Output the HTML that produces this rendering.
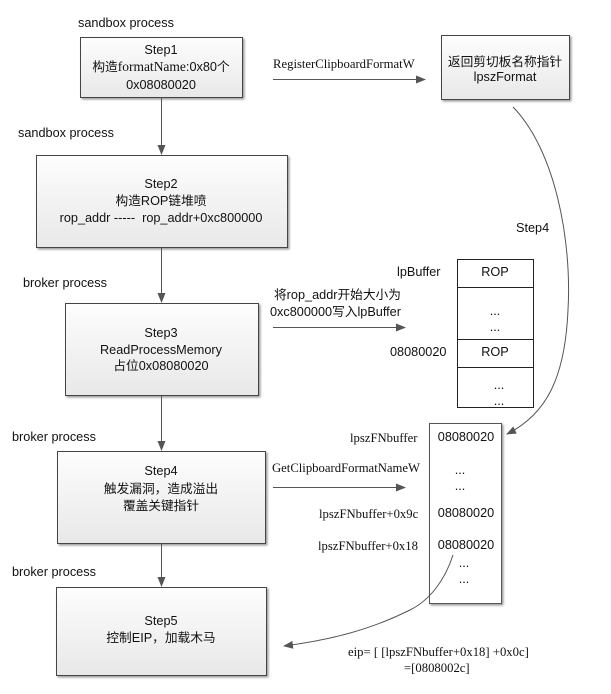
<!DOCTYPE html>
<html><head><meta charset="utf-8"><style>
body{margin:0;background:#fff;width:611px;height:689px;overflow:hidden}
svg text{font-family:"Liberation Sans","Noto Sans CJK SC",sans-serif;font-size:12.7px;fill:#111;white-space:pre}
.s{font-family:"Liberation Serif","Noto Serif CJK SC",serif}
</style></head><body>
<svg width="611" height="689" xmlns="http://www.w3.org/2000/svg">
<defs>
<linearGradient id="g" x1="0" y1="0" x2="0" y2="1"><stop offset="0" stop-color="#fdfdfd"/><stop offset="1" stop-color="#e8e8e8"/></linearGradient>
<marker id="a" markerWidth="10" markerHeight="8" refX="9" refY="4" orient="auto" markerUnits="userSpaceOnUse"><path d="M0,0 L10,4 L0,8z" fill="#555"/></marker>
<filter id="sh"><feDropShadow dx="1.5" dy="1.5" stdDeviation="1" flood-color="#999"/></filter>
</defs>
<g fill="url(#g)" stroke="#444" stroke-width="1" filter="url(#sh)">
<rect x="80.5" y="37.5" width="162" height="60"/>
<rect x="36.5" y="155.5" width="251" height="92"/>
<rect x="65.5" y="303.5" width="193" height="92"/>
<rect x="57.5" y="451.5" width="208" height="92"/>
<rect x="56.5" y="587.5" width="210" height="88"/>
<rect x="441.5" y="35.5" width="128" height="64"/>
</g>
<g fill="#fff" stroke="#222">
<rect x="457.5" y="259.5" width="76" height="148"/>
<line x1="457" y1="287.5" x2="533" y2="287.5"/>
<line x1="457" y1="339.5" x2="533" y2="339.5"/>
<line x1="457" y1="367.5" x2="533" y2="367.5"/>
</g>
<rect x="429.5" y="423.5" width="72" height="180" fill="#fff" stroke="#555" filter="url(#sh)"/>
<g stroke="#555" stroke-width="1" fill="none" marker-end="url(#a)">
<line x1="161.5" y1="97" x2="161.5" y2="154"/>
<line x1="161.5" y1="248" x2="161.5" y2="302"/>
<line x1="161.5" y1="396" x2="161.5" y2="450"/>
<line x1="161.5" y1="544" x2="161.5" y2="586"/>
<line x1="273" y1="79.5" x2="425" y2="79.5"/>
<line x1="273" y1="327.5" x2="405" y2="327.5"/>
<line x1="273" y1="487.5" x2="405" y2="487.5"/>
<path d="M513,107 C555,150 572,240 568,310 C565,380 545,415 507,434"/>
<path d="M453,555 C445,580 430,600 410,610 C370,630 330,640 284,646"/>
</g>
<text x="78" y="27">sandbox process</text>
<text x="18" y="137">sandbox process</text>
<text x="23" y="287">broker process</text>
<text x="12" y="441">broker process</text>
<text x="12" y="576">broker process</text>
<g text-anchor="middle">
<text x="161" y="54">Step1</text>
<text x="161" y="71">构造<tspan class="s" font-size="13.5">formatName</tspan>:0x80个</text>
<text x="161" y="89">0x08080020</text>
<text x="161" y="188">Step2</text>
<text x="161" y="205">构造ROP链堆喷</text>
<text x="161" y="222">rop_addr -----  rop_addr+0xc800000</text>
<text x="161" y="337">Step3</text>
<text x="161" y="354">ReadProcessMemory</text>
<text x="161" y="370">占位0x08080020</text>
<text x="161" y="475">Step4</text>
<text x="161" y="493">触发漏洞，造成溢出</text>
<text x="161" y="510">覆盖关键指针</text>
<text x="161" y="625">Step5</text>
<text x="161" y="642">控制EIP，加载木马</text>
<text x="505" y="66">返回剪切板名称指针</text>
<text x="505" y="81">lpszFormat</text>
<text x="495" y="276">ROP</text>
<text x="495" y="315">...</text>
<text x="495" y="331">...</text>
<text x="495" y="356">ROP</text>
<text x="499" y="389">...</text>
<text x="499" y="405">...</text>
<text x="466" y="441">08080020</text>
<text x="460" y="474">...</text>
<text x="460" y="490">...</text>
<text x="466" y="517">08080020</text>
<text x="466" y="549">08080020</text>
<text x="464" y="567">...</text>
<text x="464" y="583">...</text>
</g>
<text x="274" y="299">将rop_addr开始大小为</text>
<text x="270" y="316">0xc800000写入lpBuffer</text>
<text class="s" x="273" y="68">RegisterClipboardFormatW</text>
<text x="516" y="232">Step4</text>
<text x="397" y="276">lpBuffer</text>
<text x="390" y="356">08080020</text>
<text class="s" x="350" y="442">lpszFNbuffer</text>
<text class="s" x="272" y="472">GetClipboardFormatNameW</text>
<text class="s" x="319" y="518">lpszFNbuffer+0x9c</text>
<text class="s" x="318" y="550">lpszFNbuffer+0x18</text>
<text class="s" x="348" y="656">eip= [ [lpszFNbuffer+0x18] +0x0c]</text>
<text class="s" x="404" y="672">=[0808002c]</text>
</svg>
</body></html>
